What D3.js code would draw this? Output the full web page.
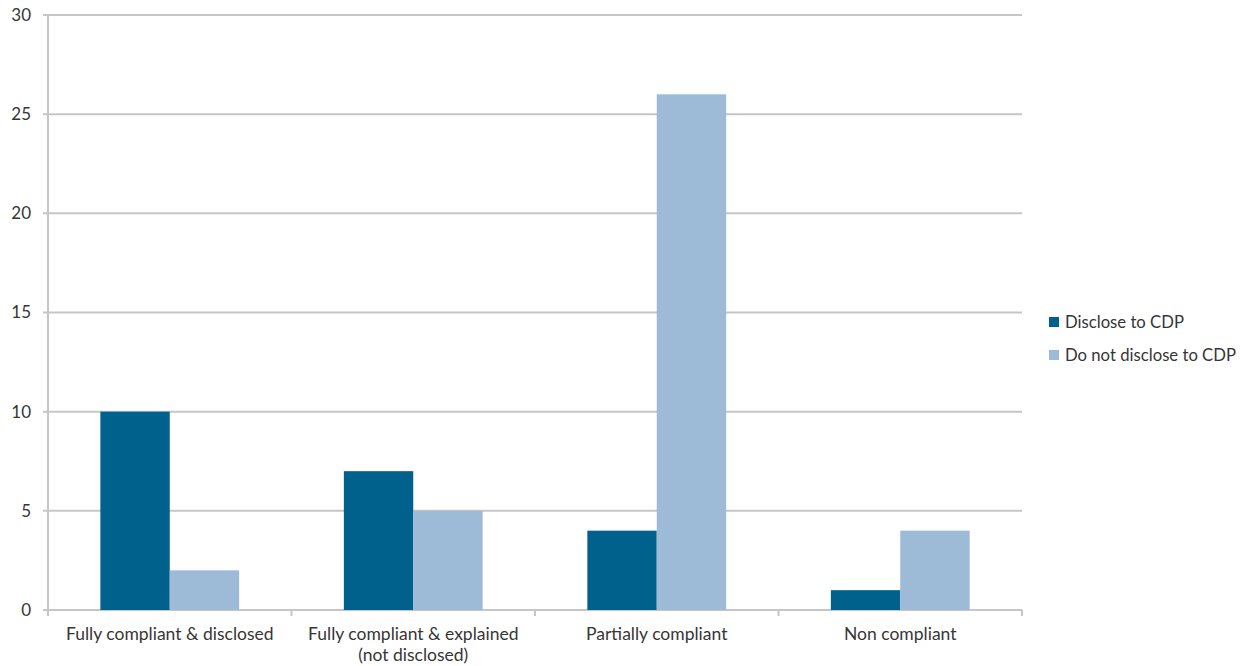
<!DOCTYPE html>
<html>
<head>
<meta charset="utf-8">
<script src="https://cdn.jsdelivr.net/npm/d3@7"></script>
<style>
  body { margin: 0; background: #fff; }
  text { font-family: Lato, "Open Sans", sans-serif; fill: #363636; }
</style>
</head>
<body>
<div id="chart"></div>
<script>
// data
const categories = ["Fully compliant & disclosed", "Fully compliant & explained\n(not disclosed)", "Partially compliant", "Non compliant"];
const seriesNames = ["Disclose to CDP", "Do not disclose to CDP"];
const discloseValues = [10, 7, 4, 1];
const notDiscloseValues = [2, 5, 26, 4];
const yTicks = [0, 5, 10, 15, 20, 25, 30];
const colors = ["#00618d", "#9dbbd7"];

// MARGIN CONVENTIONS
const margin = { top: 15, right: 219, bottom: 56, left: 48 };
const outerWidth = 1241;
const outerHeight = 666;
const width = outerWidth - margin.left - margin.right;
const height = outerHeight - margin.top - margin.bottom;

const svg = d3.select("#chart").append("svg")
    .attr("width", outerWidth)
    .attr("height", outerHeight);

const g = svg.append("g")
    .attr("transform", `translate(${margin.left}, ${margin.top})`);

const rows = categories.map((c, i) => ({ category: c, values: [discloseValues[i], notDiscloseValues[i]] }));

// scales
const x = d3.scaleBand()
    .domain(categories)
    .range([0, width])
    .paddingInner(0)
    .paddingOuter(0);

const xInner = d3.scaleBand()
    .domain(seriesNames)
    .range([x.bandwidth() * 0.215, x.bandwidth() * 0.785]);

const y = d3.scaleLinear()
    .domain([0, 30])
    .range([height, 0]);

// gridlines
g.append("g")
    .selectAll("line")
    .data(yTicks)
    .enter()
    .append("line")
    .attr("x1", -5)
    .attr("x2", width)
    .attr("y1", d => y(d))
    .attr("y2", d => y(d))
    .attr("stroke", "#c6c6c6")
    .attr("stroke-width", 2);

// y axis line
g.append("line")
    .attr("x1", 0).attr("x2", 0)
    .attr("y1", 0).attr("y2", height + 5)
    .attr("stroke", "#c6c6c6")
    .attr("stroke-width", 2);

// category ticks
g.append("g")
    .selectAll("line")
    .data(d3.range(categories.length + 1))
    .enter()
    .append("line")
    .attr("x1", i => i * x.step())
    .attr("x2", i => i * x.step())
    .attr("y1", height)
    .attr("y2", height + 6)
    .attr("stroke", "#c6c6c6")
    .attr("stroke-width", 2);

// y labels
g.append("g")
    .selectAll("text")
    .data(yTicks)
    .enter()
    .append("text")
    .attr("x", -17)
    .attr("y", d => y(d))
    .attr("dy", "0.35em")
    .attr("text-anchor", "end")
    .style("font-size", "17px")
    .text(d => d);

// bars
const groups = g.selectAll(".cat")
    .data(rows)
    .enter()
    .append("g")
    .attr("class", "cat")
    .attr("transform", d => `translate(${x(d.category)}, 0)`);

groups.selectAll("rect")
    .data(d => d.values.map((v, i) => ({ series: seriesNames[i], value: v, idx: i })))
    .enter()
    .append("rect")
    .attr("x", d => xInner(d.series))
    .attr("width", xInner.bandwidth())
    .attr("y", d => y(d.value))
    .attr("height", d => y(0) - y(d.value))
    .attr("fill", d => colors[d.idx]);

// x labels
const xl = g.append("g")
    .selectAll("text")
    .data(categories)
    .enter()
    .append("text")
    .attr("x", d => x(d) + x.bandwidth() / 2)
    .attr("y", height + 30)
    .attr("text-anchor", "middle")
    .style("font-size", "17.5px");

xl.selectAll("tspan")
    .data(d => d.split("\n"))
    .enter()
    .append("tspan")
    .attr("x", function () { return d3.select(this.parentNode).attr("x"); })
    .attr("dy", (d, i) => i === 0 ? 0 : 21)
    .text(d => d);

// legend
const legend = svg.append("g")
    .attr("transform", "translate(1049, 322)");

const items = legend.selectAll("g")
    .data(seriesNames)
    .enter()
    .append("g")
    .attr("transform", (d, i) => `translate(0, ${i * 33})`);

items.append("rect")
    .attr("x", 0)
    .attr("y", -5)
    .attr("width", 10)
    .attr("height", 10)
    .attr("fill", (d, i) => colors[i]);

items.append("text")
    .attr("x", 16)
    .attr("y", 0)
    .attr("dy", "0.35em")
    .style("font-size", "16.7px")
    .text(d => d);
</script>
</body>
</html>
